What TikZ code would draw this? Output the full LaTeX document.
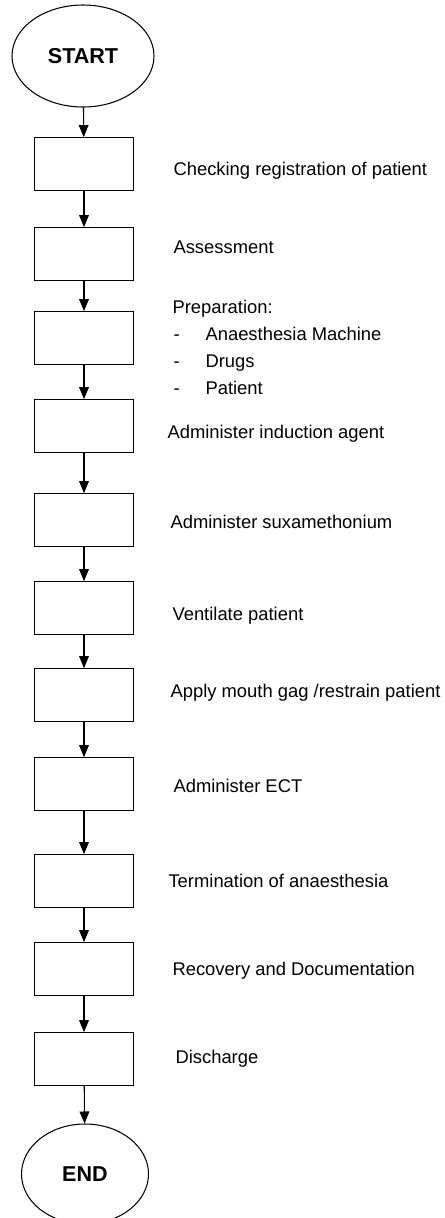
\documentclass[tikz,border=0pt]{standalone}
\usepackage{fontspec}
\setmainfont{Liberation Sans}
\usetikzlibrary{arrows.meta,shapes.geometric}
\begin{document}
\begin{tikzpicture}[x=0.03cm, y=-0.03cm, line width=0.9pt, >={Triangle[length=0.36cm,width=0.29cm]},
proc box/.style={rectangle,draw,minimum width=2.97cm,minimum height=1.58cm,inner sep=0pt},
term node/.style={ellipse,draw,inner sep=0pt,font=\fontsize{18.4}{22}\selectfont\bfseries},
step text/.style={anchor=base west,inner sep=0pt,font=\fontsize{15.7}{19}\selectfont}]
\useasboundingbox (0,0) rectangle (445,1218);
% start / end
\node[term node,minimum width=4.26cm,minimum height=3.06cm] (start) at (83,56) {START};
\node[term node,minimum width=3.81cm,minimum height=3.0cm] (end) at (85,1174) {END};
% empty process boxes
\node[proc box] (s1) at (84,164) {};
\node[proc box] (s2) at (84,254) {};
\node[proc box] (s3) at (84,338) {};
\node[proc box] (s4) at (84,426) {};
\node[proc box] (s5) at (84,520) {};
\node[proc box] (s6) at (84,608) {};
\node[proc box] (s7) at (84,695) {};
\node[proc box] (s8) at (84,784) {};
\node[proc box] (s9) at (84,881) {};
\node[proc box] (s10) at (84,969) {};
\node[proc box] (s11) at (84,1059) {};
%\node[proc box] (s) at (84,) {};
\begin{scope}[every node/.style={step text}]
\node (t1) at (173,175) {Checking registration of patient};
\node (t2) at (173,253) {Assessment};
\node (t3) at (172,313) {Preparation:};
\node (d1) at (173,340) {-};
\node (t3a) at (205,340) {Anaesthesia Machine};
\node (d2) at (173,367) {-};
\node (t3b) at (205,367) {Drugs};
\node (d3) at (173,394) {-};
\node (t3c) at (205,394) {Patient};
\node (t4) at (167,438) {Administer induction agent};
\node (t5) at (170,528) {Administer suxamethonium};
\node (t6) at (172,620) {Ventilate patient};
\node (t7) at (170,697) {Apply mouth gag /restrain patient};
\node (t8) at (173,792) {Administer ECT};
\node (t9) at (168,887) {Termination of anaesthesia};
\node (t10) at (172,975) {Recovery and Documentation};
\node (t11) at (175,1063) {Discharge};
\end{scope}
\begin{scope}[every edge/.style={draw=black,line width=0.9pt}]
\draw[->] (start) edge (s1);
\draw[->] (s1) edge (s2);
\draw[->] (s2) edge (s3);
\draw[->] (s3) edge (s4);
\draw[->] (s4) edge (s5);
\draw[->] (s5) edge (s6);
\draw[->] (s6) edge (s7);
\draw[->] (s7) edge (s8);
\draw[->] (s8) edge (s9);
\draw[->] (s9) edge (s10);
\draw[->] (s10) edge (s11);
\draw[->] (s11) edge (end);
\end{scope}
\end{tikzpicture}
\end{document}
